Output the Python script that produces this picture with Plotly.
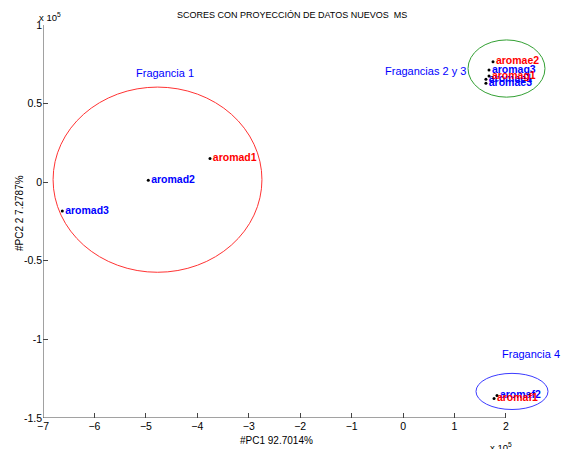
import plotly.graph_objects as go

# PCA scores (units of 1e5)
orig_names = ["aromad2", "aromad3", "aromag3", "aromae1", "aromae3", "aromaf2"]
orig_pc1 = [-4.953, -6.625, 1.67, 1.61, 1.61, 1.826]
orig_pc2 = [0.013, -0.183, 0.713, 0.655, 0.63, -1.357]

new_names = ["aromad1", "aromae2", "aromag1", "aromaf1"]
new_pc1 = [-3.754, 1.748, 1.67, 1.768]
new_pc2 = [0.151, 0.766, 0.675, -1.376]

# fragrance groups: label, label anchor, ellipse centre and radii
group_labels = ["Fragancia 1", "Fragancias 2 y 3", "Fragancia 4"]
group_label_x = [-5.24, -0.40, 1.88]
group_label_y = [0.695, 0.71, -1.09]
group_cx = [-4.774, 2.01, 2.117]
group_cy = [0.016, 0.723, -1.331]
group_rx = [2.03, 0.748, 0.70]
group_ry = [0.589, 0.182, 0.115]
group_colors = ["#ff3333", "#33a033", "#3b3bff"]

x_ticks = [-7, -6, -5, -4, -3, -2, -1, 0, 1, 2]
y_ticks = [-1.5, -1, -0.5, 0, 0.5, 1]
y_ticktext = ["-1.5", "-1", "-0.5", "0", "0.5", "1"]

FONT = "Liberation Sans, Arial, sans-serif"

fig = go.Figure()

fig.add_trace(go.Scatter(
    x=orig_pc1, y=orig_pc2, text=orig_names, mode="markers+text",
    textposition="middle right",
    marker=dict(color="black", size=3),
    textfont=dict(family=FONT, size=10.5, color="#0000ff", weight="bold"),
    cliponaxis=False, showlegend=False,
))
fig.add_trace(go.Scatter(
    x=new_pc1, y=new_pc2, text=new_names, mode="markers+text",
    textposition="middle right",
    marker=dict(color="black", size=3),
    textfont=dict(family=FONT, size=10.5, color="#ff0000", weight="bold"),
    cliponaxis=False, showlegend=False,
))

shapes = []
for cx, cy, rx, ry, col in zip(group_cx, group_cy, group_rx, group_ry, group_colors):
    shapes.append(dict(type="circle", xref="x", yref="y",
                       x0=cx - rx, x1=cx + rx, y0=cy - ry, y1=cy + ry,
                       line=dict(color=col, width=1), layer="below"))

# axis lines (left and bottom only)
shapes.append(dict(type="line", xref="x", yref="y", x0=x_ticks[0], x1=x_ticks[-1],
                   y0=y_ticks[0], y1=y_ticks[0], line=dict(color="#444", width=1)))
shapes.append(dict(type="line", xref="x", yref="y", x0=x_ticks[0], x1=x_ticks[0],
                   y0=y_ticks[0], y1=y_ticks[-1], line=dict(color="#444", width=1)))

annotations = []
for lab, lx, ly in zip(group_labels, group_label_x, group_label_y):
    annotations.append(dict(x=lx, y=ly, xref="x", yref="y", text=lab, showarrow=False,
                            xanchor="left", yanchor="middle",
                            font=dict(family=FONT, size=11, color="#0000ff")))

annotations += [
    dict(x=0.48, y=1.025, xref="paper", yref="paper", showarrow=False,
         text="SCORES CON PROYECCIÓN DE DATOS NUEVOS  MS",
         xanchor="center", yanchor="middle",
         font=dict(family=FONT, size=9, color="black")),
    dict(x=-0.012, y=1.02, xref="paper", yref="paper", showarrow=False,
         text="x 10<sup>5</sup>", xanchor="left", yanchor="middle",
         font=dict(family=FONT, size=9.5, color="black")),
    dict(x=0.857, y=-0.075, xref="paper", yref="paper", showarrow=False,
         text="x 10<sup>5</sup>", xanchor="left", yanchor="middle",
         font=dict(family=FONT, size=9.5, color="black")),
    dict(x=0.449, y=-0.058, xref="paper", yref="paper", showarrow=False,
         text="#PC1 92.7014%", xanchor="center", yanchor="middle",
         font=dict(family=FONT, size=10, color="black")),
    dict(x=-0.044, y=0.522, xref="paper", yref="paper", showarrow=False,
         text="#PC2 2 7.2787%", textangle=-90, xanchor="center", yanchor="middle",
         font=dict(family=FONT, size=10, color="black")),
]

fig.update_layout(
    width=562, height=449,
    margin=dict(l=43, r=0, t=25, b=31),
    paper_bgcolor="white", plot_bgcolor="white",
    shapes=shapes, annotations=annotations,
    xaxis=dict(range=[-7, 3.089], tickvals=x_ticks, ticks="inside", ticklen=5,
               tickcolor="#444", showgrid=False, zeroline=False, showline=False,
               tickfont=dict(family=FONT, size=10.5, color="black")),
    yaxis=dict(range=[-1.5, 1], tickvals=y_ticks, ticktext=y_ticktext, ticks="inside",
               ticklen=5, tickcolor="#444", showgrid=False, zeroline=False,
               showline=False, tickfont=dict(family=FONT, size=10.5, color="black")),
)

fig.write_html("out.html")
